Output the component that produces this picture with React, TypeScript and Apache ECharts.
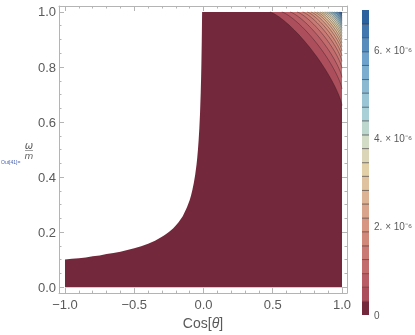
import React, { useEffect, useRef } from "react";
import * as echarts from "echarts";

// ---- axes ----
const xTicks = [-1, -0.5, 0, 0.5, 1];
const xTickLabels = ["\u22121.0", "\u22120.5", "0.0", "0.5", "1.0"];
const xMinorTicks = [-0.9, -0.8, -0.7, -0.6, -0.4, -0.3, -0.2, -0.1, 0.1, 0.2, 0.3, 0.4, 0.6, 0.7, 0.8, 0.9];
const yTicks = [0, 0.2, 0.4, 0.6, 0.8, 1];
const yTickLabels = ["0.0", "0.2", "0.4", "0.6", "0.8", "1.0"];
const yMinorTicks = [0.05, 0.1, 0.15, 0.25, 0.3, 0.35, 0.45, 0.5, 0.55, 0.65, 0.7, 0.75, 0.85, 0.9, 0.95];
const barTicks = [0, 2e-6, 4e-6, 6e-6];
const barTickLabels = ["0", "2. \u00d7 10\u207b\u2076", "4. \u00d7 10\u207b\u2076", "6. \u00d7 10\u207b\u2076"];

// ---- domain ----
const domainX = [-1, 1];
const domainY = [0, 1];

// ---- left boundary of the filled region ----
const boundaryX = [-1, -0.95, -0.9, -0.85, -0.8, -0.75, -0.7, -0.65, -0.6, -0.55, -0.5, -0.45, -0.4, -0.35, -0.3, -0.28, -0.25, -0.22, -0.2, -0.18, -0.15, -0.12, -0.1, -0.09, -0.08, -0.07, -0.06, -0.05, -0.045, -0.04, -0.035, -0.03, -0.025, -0.02, -0.0175, -0.015, -0.0125, -0.01];
const boundaryY = [0.1, 0.103, 0.105, 0.108, 0.112, 0.115, 0.12, 0.124, 0.129, 0.135, 0.141, 0.149, 0.158, 0.169, 0.183, 0.189, 0.2, 0.213, 0.224, 0.236, 0.258, 0.289, 0.316, 0.333, 0.354, 0.378, 0.408, 0.447, 0.471, 0.5, 0.535, 0.577, 0.632, 0.707, 0.756, 0.816, 0.894, 1.0];

// ---- contour levels and where each contour meets the top edge (y=1) and the right edge (x=1) ----
const contourLevels = [0.31e-6, 0.63e-6, 0.94e-6, 1.26e-6, 1.57e-6, 1.89e-6, 2.2e-6, 2.52e-6, 2.83e-6, 3.15e-6, 3.46e-6, 3.78e-6, 4.09e-6, 4.41e-6, 4.72e-6, 5.04e-6, 5.35e-6, 5.67e-6, 5.98e-6, 6.3e-6, 6.61e-6];
const levelMax = 6.93e-6;
const contourTopX = [0.48, 0.565, 0.625, 0.675, 0.715, 0.748, 0.775, 0.8, 0.82, 0.84, 0.858, 0.875, 0.89, 0.905, 0.918, 0.931, 0.944, 0.956, 0.967, 0.978, 0.989];
const contourRightY = [0.66, 0.72, 0.762, 0.795, 0.82, 0.84, 0.858, 0.873, 0.887, 0.9, 0.911, 0.922, 0.932, 0.941, 0.95, 0.958, 0.966, 0.973, 0.98, 0.987, 0.994];

// ---- palette (style) ----
const paletteStops: [number, number[]][] = [
  [0, [116, 40, 60]],
  [1, [172, 78, 92]],
  [3, [195, 108, 110]],
  [6, [214, 150, 130]],
  [10, [226, 208, 168]],
  [12, [210, 220, 198]],
  [14, [168, 208, 214]],
  [18, [108, 162, 204]],
  [21, [44, 98, 158]],
];
function bandColor(k: number): string {
  for (let i = 0; i < paletteStops.length - 1; i++) {
    const [k0, c0] = paletteStops[i];
    const [k1, c1] = paletteStops[i + 1];
    if (k >= k0 && k <= k1) {
      const t = (k - k0) / (k1 - k0);
      const c = c0.map((v, j) => Math.round(v + (c1[j] - v) * t));
      return `rgb(${c[0]},${c[1]},${c[2]})`;
    }
  }
  const c = paletteStops[paletteStops.length - 1][1];
  return `rgb(${c[0]},${c[1]},${c[2]})`;
}

const FONT = "'Liberation Sans', Arial, sans-serif";
const FRAME = "#b4b4b4";
const TEXT = "#5a5a5a";
const CURVE_EXP = 1.3;

export default function App() {
  const ref = useRef<HTMLDivElement>(null);
  useEffect(() => {
    if (!ref.current) return;
    const chart = echarts.init(ref.current, undefined, { renderer: "svg" });

    const xMin = -1.0433, xMax = 1.0361, yMin = -0.0217, yMax = 1.0217;

    const frameX = (pos: string, major: boolean, labels: boolean, extra: any = {}) => ({
      type: "value", gridIndex: 0, position: pos, min: xMin, max: xMax,
      axisLine: { show: major, onZero: false, lineStyle: { color: FRAME, width: 1 } },
      axisTick: { show: true, inside: true, length: major ? 5 : 2.5, customValues: major ? xTicks : xMinorTicks, lineStyle: { color: FRAME } },
      axisLabel: labels
        ? { show: true, customValues: xTicks, formatter: (v: number) => xTickLabels[xTicks.indexOf(v)] ?? "", color: TEXT, fontSize: 13, fontFamily: FONT, margin: 5 }
        : { show: false },
      splitLine: { show: false },
      ...extra,
    });
    const frameY = (pos: string, major: boolean, labels: boolean) => ({
      type: "value", gridIndex: 0, position: pos, min: yMin, max: yMax,
      axisLine: { show: major, onZero: false, lineStyle: { color: FRAME, width: 1 } },
      axisTick: { show: true, inside: true, length: major ? 5 : 2.5, customValues: major ? yTicks : yMinorTicks, lineStyle: { color: FRAME } },
      axisLabel: labels
        ? { show: true, customValues: yTicks, formatter: (v: number) => yTickLabels[yTicks.indexOf(v)] ?? "", color: TEXT, fontSize: 13, fontFamily: FONT, margin: 3 }
        : { show: false },
      splitLine: { show: false },
    });

    const option: any = {
      animation: false,
      grid: [
        { left: 59, top: 6, width: 288, height: 288 },
        { left: 362, top: 10, width: 8, height: 305 },
      ],
      xAxis: [
        frameX("bottom", true, true, {
          name: "Cos[{i|\u03b8}]", nameLocation: "middle", nameGap: 21,
          nameTextStyle: { color: TEXT, fontSize: 14, fontFamily: FONT, rich: { i: { fontStyle: "italic", color: TEXT, fontSize: 14, fontFamily: FONT } } },
        }),
        frameX("bottom", false, false),
        frameX("top", true, false),
        frameX("top", false, false),
        { type: "value", gridIndex: 1, min: 0, max: 1, show: false },
      ],
      yAxis: [
        frameY("left", true, true),
        frameY("left", false, false),
        frameY("right", true, false),
        frameY("right", false, false),
        {
          type: "value", gridIndex: 1, position: "right", min: 0, max: levelMax,
          axisLine: { show: false }, axisTick: { show: false }, splitLine: { show: false },
          axisLabel: { show: true, customValues: barTicks, formatter: (v: number) => barTickLabels[barTicks.indexOf(v)] ?? "", color: TEXT, fontSize: 10, fontFamily: FONT, margin: 5 },
        },
      ],
      series: [
        {
          type: "custom", xAxisIndex: 0, yAxisIndex: 0, data: [[0]],
          renderItem: (params: any, api: any) => {
            const pts: number[][] = [];
            for (let i = 0; i < boundaryX.length; i++) pts.push(api.coord([boundaryX[i], boundaryY[i]]));
            pts.push(api.coord([domainX[1], domainY[1]]));
            pts.push(api.coord([domainX[1], domainY[0]]));
            pts.push(api.coord([domainX[0], domainY[0]]));
            return { type: "polygon", shape: { points: pts, smooth: 0 }, style: { fill: bandColor(0), stroke: "none" } };
          },
        },
        {
          type: "custom", xAxisIndex: 0, yAxisIndex: 0,
          data: contourLevels.map((v, k) => [k, v]),
          renderItem: (params: any, api: any) => {
            const k = params.dataIndex;
            const xt = contourTopX[k], yr = contourRightY[k];
            const a = domainX[1] - xt, b = domainY[1] - yr;
            const arc: number[][] = [];
            const N = 40;
            for (let j = 0; j <= N; j++) {
              const t = (j / N) * Math.PI / 2;
              const c = Math.pow(Math.max(0, Math.cos(t)), 2 / CURVE_EXP);
              const s = Math.pow(Math.max(0, Math.sin(t)), 2 / CURVE_EXP);
              arc.push(api.coord([xt + a * c, yr + b * s]));
            }
            const poly = arc.concat([api.coord([domainX[1], domainY[1]])]);
            return {
              type: "group",
              children: [
                { type: "polygon", shape: { points: poly }, style: { fill: bandColor(k + 1), stroke: "none" } },
                { type: "polyline", shape: { points: arc }, style: { stroke: "rgba(40,20,25,0.55)", lineWidth: 0.7, fill: "none" } },
              ],
            };
          },
        },
        {
          type: "custom", xAxisIndex: 4, yAxisIndex: 4,
          data: [0].concat(contourLevels).map((v, k) => [k, v]),
          renderItem: (params: any, api: any) => {
            const k = params.dataIndex;
            const lo = k === 0 ? 0 : contourLevels[k - 1];
            const hi = k === contourLevels.length ? levelMax : contourLevels[k];
            const p0 = api.coord([0, hi]);
            const p1 = api.coord([1, lo]);
            const children: any[] = [
              { type: "rect", shape: { x: p0[0], y: p0[1], width: p1[0] - p0[0], height: p1[1] - p0[1] }, style: { fill: bandColor(k), stroke: "none" } },
            ];
            if (k > 0) {
              children.push({ type: "line", shape: { x1: p0[0], y1: p1[1], x2: p1[0], y2: p1[1] }, style: { stroke: "rgba(50,40,40,0.6)", lineWidth: 1 } });
            }
            return { type: "group", children };
          },
        },
      ],
      graphic: [
        { type: "text", x: 29, y: 145, style: { text: "\u03c9", fontSize: 10, fontStyle: "italic", fontFamily: "'DejaVu Sans', sans-serif", fill: TEXT, align: "center", verticalAlign: "middle" } },
        { type: "line", shape: { x1: 25, y1: 150.5, x2: 33, y2: 150.5 }, style: { stroke: "#777", lineWidth: 0.7 } },
        { type: "text", x: 29, y: 156, style: { text: "m", fontSize: 9, fontStyle: "italic", fontFamily: "'DejaVu Sans', sans-serif", fill: TEXT, align: "center", verticalAlign: "middle" } },
        { type: "text", x: 1, y: 162, style: { text: "Out[41]=", fontSize: 5, fontFamily: FONT, fill: "#4a62b0", align: "left", verticalAlign: "middle" } },
      ],
    };
    chart.setOption(option);
    return () => chart.dispose();
  }, []);
  return <div ref={ref} style={{ position: "fixed", left: 0, top: 0, width: 415, height: 335 }} />;
}
